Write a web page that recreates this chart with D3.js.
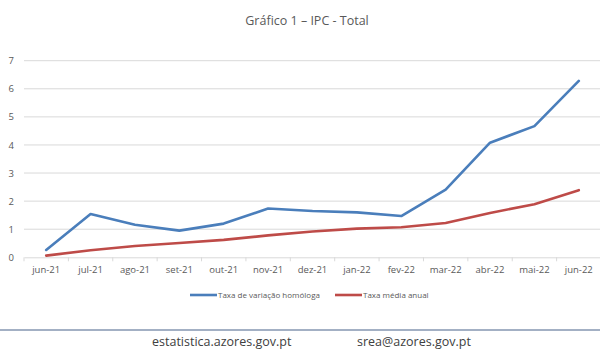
<!DOCTYPE html>
<html>
<head>
<meta charset="utf-8">
<script src="https://cdn.jsdelivr.net/npm/d3@7/dist/d3.min.js"></script>
<style>
  html, body { margin: 0; padding: 0; background: #fff; }
  svg { display: block; font-family: "Open Sans", "Noto Sans", sans-serif; }
</style>
</head>
<body>
<svg id="chart" width="600" height="360"></svg>
<script>
const categories = ["jun-21","jul-21","ago-21","set-21","out-21","nov-21","dez-21","jan-22","fev-22","mar-22","abr-22","mai-22","jun-22"];
const homologa = [0.26, 1.54, 1.16, 0.95, 1.20, 1.74, 1.65, 1.60, 1.47, 2.41, 4.08, 4.67, 6.28];
const mediaAnual = [0.06, 0.25, 0.40, 0.51, 0.62, 0.78, 0.92, 1.02, 1.07, 1.22, 1.58, 1.89, 2.39];
const yTicks = [0, 1, 2, 3, 4, 5, 6, 7];
const seriesNames = ["Taxa de variação homóloga", "Taxa média anual"];

(function () {
const svg = d3.select("#chart");
const mLeft = 24, mRight = 601, mTop = 60.7, mBottom = 257.3;

const x = d3.scaleBand().domain(categories).range([mLeft, mRight]);
const y = d3.scaleLinear().domain([0, 7]).range([mBottom, mTop]);

// title
svg.append("text").attr("x", 307).attr("y", 25).attr("text-anchor", "middle")
  .attr("font-size", 12.5).attr("fill", "#595959").text("Gráfico 1 – IPC - Total");

// gridlines
svg.append("g").selectAll("line").data(yTicks.filter(d => d > 0)).join("line")
  .attr("x1", mLeft).attr("x2", mRight)
  .attr("y1", d => y(d)).attr("y2", d => y(d))
  .attr("stroke", "#d9d9d9").attr("stroke-width", 1);

// y axis labels
const yAxis = d3.axisLeft(y).tickValues(yTicks).tickFormat(d3.format("d")).tickSize(0).tickPadding(10);
const gy = svg.append("g").attr("transform", `translate(${mLeft},0)`).call(yAxis);
gy.select(".domain").remove();
gy.selectAll("text").attr("font-size", 9.5).attr("fill", "#595959").attr("font-family", "Open Sans");

// x axis
const xAxis = d3.axisBottom(x).tickSize(0).tickPadding(9);
const gx = svg.append("g").attr("transform", `translate(0,${mBottom})`).call(xAxis);
gx.select(".domain").attr("stroke", "#d9d9d9");
gx.selectAll("text").attr("font-size", 9.5).attr("fill", "#595959").attr("font-family", "Open Sans");
const bounds = categories.map(c => x(c)).concat([x(categories[categories.length - 1]) + x.bandwidth()]);
gx.append("g").selectAll("line").data(bounds).join("line")
  .attr("x1", d => d).attr("x2", d => d).attr("y1", 0).attr("y2", 4)
  .attr("stroke", "#d9d9d9");

const cx = c => x(c) + x.bandwidth() / 2;
const line = d3.line().x((d, i) => cx(categories[i])).y(d => y(d));

const colors = ["#4a7ebb", "#be4b48"];
[homologa, mediaAnual].forEach((s, k) => {
  svg.append("path").datum(s).attr("d", line)
    .attr("fill", "none").attr("stroke", colors[k]).attr("stroke-width", 2.6)
    .attr("stroke-linejoin", "round").attr("stroke-linecap", "round");
});

// legend
const legendItems = [{x: 190, name: seriesNames[0], c: colors[0]}, {x: 335, name: seriesNames[1], c: colors[1]}];
const lg = svg.append("g");
legendItems.forEach(it => {
  lg.append("line").attr("x1", it.x).attr("x2", it.x + 27).attr("y1", 295).attr("y2", 295)
    .attr("stroke", it.c).attr("stroke-width", 2.6);
  lg.append("text").attr("x", it.x + 28).attr("y", 298).attr("font-size", 8)
    .attr("fill", "#595959").text(it.name);
});

// footer
svg.append("line").attr("x1", 0).attr("x2", 600).attr("y1", 330).attr("y2", 330)
  .attr("stroke", "#8496b0").attr("stroke-width", 1.5);
svg.append("text").attr("x", 152).attr("y", 345.5).attr("font-size", 12.5).attr("fill", "#404040")
  .text("estatistica.azores.gov.pt");
svg.append("text").attr("x", 357).attr("y", 345.5).attr("font-size", 12.5).attr("fill", "#404040")
  .text("srea@azores.gov.pt");
})();
</script>
</body>
</html>
